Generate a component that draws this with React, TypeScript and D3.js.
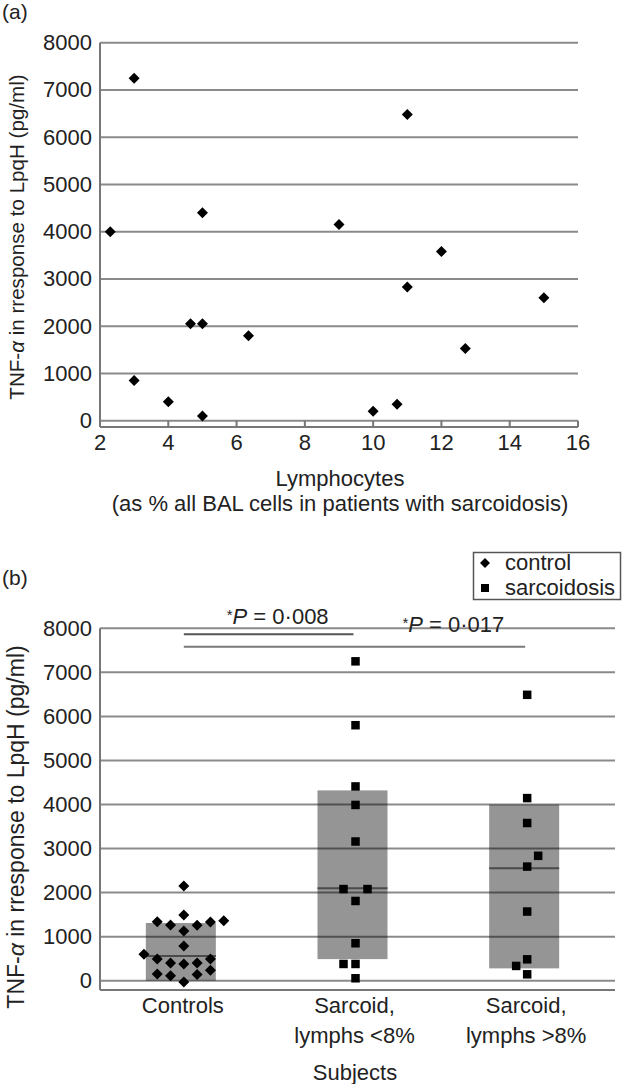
import React from "react";
import * as d3 from "d3";

// ---------- Panel (a) data ----------
const lymphPct = [2.3, 3, 3, 4, 4.65, 5, 5, 5, 6.35, 9, 10, 10.7, 11, 11, 12, 12.7, 15];
const tnfA = [4000, 7250, 850, 400, 2050, 2050, 4400, 100, 1800, 4150, 200, 350, 6480, 2830, 3580, 1530, 2600];
const xTicksA = [2, 4, 6, 8, 10, 12, 14, 16];
const yTicks = [0, 1000, 2000, 3000, 4000, 5000, 6000, 7000, 8000];

// ---------- Panel (b) data ----------
const groups = ["Controls", "Sarcoid, lymphs <8%", "Sarcoid, lymphs >8%"];
const groupLabelLines = [["Controls"], ["Sarcoid,", "lymphs <8%"], ["Sarcoid,", "lymphs >8%"]];
const controlValues = [2150, 1490, 1340, 1265, 1260, 1330, 1360, 1130, 790, 600, 490, 490, 400, 380, 400, 240, 150, 110, 140, -30];
const controlSlots = [0, 0, -2, -1, 1, 2, 3, 0, 0, -3, -2, 2, -1, 0, 1, 2, -2, -1, 1, 0];
const sarcLowValues = [7250, 5800, 4410, 3990, 3160, 2080, 2080, 1810, 850, 380, 380, 55];
const sarcLowSlots = [0, 0, 0, 0, 0, -1, 1, 0, 0, -1, 0, 0];
const sarcHighValues = [6490, 4145, 3580, 2835, 2590, 1570, 485, 335, 145];
const sarcHighSlots = [0, 0, 0, 1, 0, 0, 0, -1, 0];
const barLow = [0, 490, 280];
const barHigh = [1310, 4320, 4000];
const medians = [560, 2100, 2555];
const sigFrom = [0, 0];
const sigTo = [1, 2];
const sigLevel = [7864, 7582];
const sigP = ["0·008", "0·017"];

const FONT = "'Liberation Sans', Arial, Helvetica, sans-serif";
const GRID = "#8a8a8a";
const FS = 22;

function Diamond({ x, y, r = 5.5 }: { x: number; y: number; r?: number }) {
  return <path d={`M${x},${y - r}L${x + r},${y}L${x},${y + r}L${x - r},${y}Z`} fill="#000" />;
}
function Square({ x, y, s = 8.5 }: { x: number; y: number; s?: number }) {
  return <rect x={x - s / 2} y={y - s / 2} width={s} height={s} fill="#000" />;
}

function YTitle({ x, y, size }: { x: number; y: number; size: number }) {
  return (
    <text transform={`translate(${x},${y}) rotate(-90)`} textAnchor="middle" dominantBaseline="central" fontSize={size} fill="#222">
      TNF-<tspan fontStyle="italic">α</tspan> in rresponse to LpqH (pg/ml)
    </text>
  );
}

function PanelA() {
  const x = d3.scaleLinear().domain([2, 16]).range([100, 578]);
  const y = d3.scaleLinear().domain([0, 8000]).range([420.7, 42.7]);
  const axisY = y(-135);
  return (
    <g>
      <text x={2} y={19} fontSize={21} fill="#222">(a)</text>
      {yTicks.map((t) => (
        <g key={t}>
          <line x1={x(2)} x2={x(16)} y1={y(t)} y2={y(t)} stroke={GRID} strokeWidth={2} />
          <text x={92} y={y(t)} textAnchor="end" dominantBaseline="central" fontSize={FS} fill="#222">{t}</text>
        </g>
      ))}
      <line x1={x(2)} x2={x(2)} y1={y(8000)} y2={axisY} stroke="#777" strokeWidth={2} />
      <line x1={x(2)} x2={x(16)} y1={axisY} y2={axisY} stroke="#777" strokeWidth={2} />
      {xTicksA.map((t) => (
        <g key={t}>
          <line x1={x(t)} x2={x(t)} y1={axisY} y2={y(0)} stroke="#777" strokeWidth={2} />
          <text x={x(t)} y={450} textAnchor="middle" fontSize={FS} fill="#222">{t}</text>
        </g>
      ))}
      {lymphPct.map((v, i) => (
        <Diamond key={i} x={x(v)} y={y(tnfA[i])} />
      ))}
      <text x={340} y={486} textAnchor="middle" fontSize={FS} fill="#222">Lymphocytes</text>
      <text x={340} y={511} textAnchor="middle" fontSize={FS} fill="#222">(as % all BAL cells in patients with sarcoidosis)</text>
      <YTitle x={16} y={237} size={20.6} />
    </g>
  );
}

function PanelB() {
  const x = d3.scaleBand<string>().domain(groups).range([100, 615]);
  const cx = (i: number) => (x(groups[i]) as number) + x.bandwidth() / 2;
  const y = d3.scaleLinear().domain([0, 8000]).range([980.7, 628.3]);
  const axisY = y(-210);
  const barW = 70;
  const barShift = -5;
  const ptShift = -2;
  const pointSets = [
    { vals: controlValues, slots: controlSlots, step: 13.3, shape: "d" },
    { vals: sarcLowValues, slots: sarcLowSlots, step: 12, shape: "s" },
    { vals: sarcHighValues, slots: sarcHighSlots, step: 11, shape: "s" },
  ];
  return (
    <g>
      <text x={2} y={585} fontSize={21} fill="#222">(b)</text>
      {/* bars */}
      {groups.map((g, i) => (
        <rect key={g} x={cx(i) + barShift - barW / 2} width={barW} y={y(barHigh[i])} height={y(barLow[i]) - y(barHigh[i])} fill="#959595" />
      ))}
      {/* gridlines (on top, semi-transparent) */}
      {yTicks.map((t) => (
        <g key={t}>
          <line x1={100} x2={615} y1={y(t)} y2={y(t)} stroke="rgba(0,0,0,0.46)" strokeWidth={2} />
          <text x={92} y={y(t)} textAnchor="end" dominantBaseline="central" fontSize={FS} fill="#222">{t}</text>
        </g>
      ))}
      {/* medians */}
      {groups.map((g, i) => (
        <line key={g} x1={cx(i) + barShift - barW / 2} x2={cx(i) + barShift + barW / 2} y1={y(medians[i])} y2={y(medians[i])} stroke="#4a4a4a" strokeWidth={2} />
      ))}
      <line x1={100} x2={100} y1={y(8000)} y2={axisY} stroke="#777" strokeWidth={2} />
      <line x1={100} x2={615} y1={axisY} y2={axisY} stroke="#777" strokeWidth={2} />
      {/* points */}
      {pointSets.map((ps, gi) =>
        ps.vals.map((v, i) => {
          const px = cx(gi) + ptShift + ps.slots[i] * ps.step;
          return ps.shape === "d" ? <Diamond key={`${gi}-${i}`} x={px} y={y(v)} r={5.5} /> : <Square key={`${gi}-${i}`} x={px} y={y(v)} />;
        })
      )}
      {/* significance */}
      {sigFrom.map((f, i) => (
        <line key={i} x1={cx(f) + ptShift} x2={cx(sigTo[i]) + ptShift - 2} y1={y(sigLevel[i])} y2={y(sigLevel[i])} stroke={i === 0 ? "#555" : "#7a7a7a"} strokeWidth={2} />
      ))}
      <text x={(cx(0) + cx(1)) / 2 + 6} y={624} textAnchor="middle" fontSize={FS} fill="#222">
        <tspan fontSize={15} dy={-4}>*</tspan><tspan fontStyle="italic" dy={4}>P</tspan> = {sigP[0]}
      </text>
      <text x={(cx(1) + cx(2)) / 2 + 10} y={632} textAnchor="middle" fontSize={FS} fill="#222">
        <tspan fontSize={15} dy={-4}>*</tspan><tspan fontStyle="italic" dy={4}>P</tspan> = {sigP[1]}
      </text>
      {/* category labels */}
      {groupLabelLines.map((lines, i) =>
        lines.map((l, j) => (
          <text key={`${i}-${j}`} x={cx(i) - 3} y={1013 + j * 30} textAnchor="middle" fontSize={FS} fill="#222">{l}</text>
        ))
      )}
      <text x={355} y={1080} textAnchor="middle" fontSize={FS} fill="#222">Subjects</text>
      <YTitle x={16} y={827} size={23} />
      {/* legend */}
      <rect x={473.5} y={552.5} width={147} height={47} fill="#fff" stroke="#555" strokeWidth={1.5} />
      <Diamond x={485} y={563} r={5} />
      <Square x={485} y={588} s={8} />
      <text x={505} y={570} fontSize={FS} fill="#222">control</text>
      <text x={505} y={595} fontSize={FS} fill="#222">sarcoidosis</text>
    </g>
  );
}

export default function App() {
  return (
    <svg width={622} height={1084} style={{ position: "absolute", left: 0, top: 0, background: "#fff" }} fontFamily={FONT}>
      <rect width={622} height={1084} fill="#fff" />
      <PanelA />
      <PanelB />
    </svg>
  );
}
